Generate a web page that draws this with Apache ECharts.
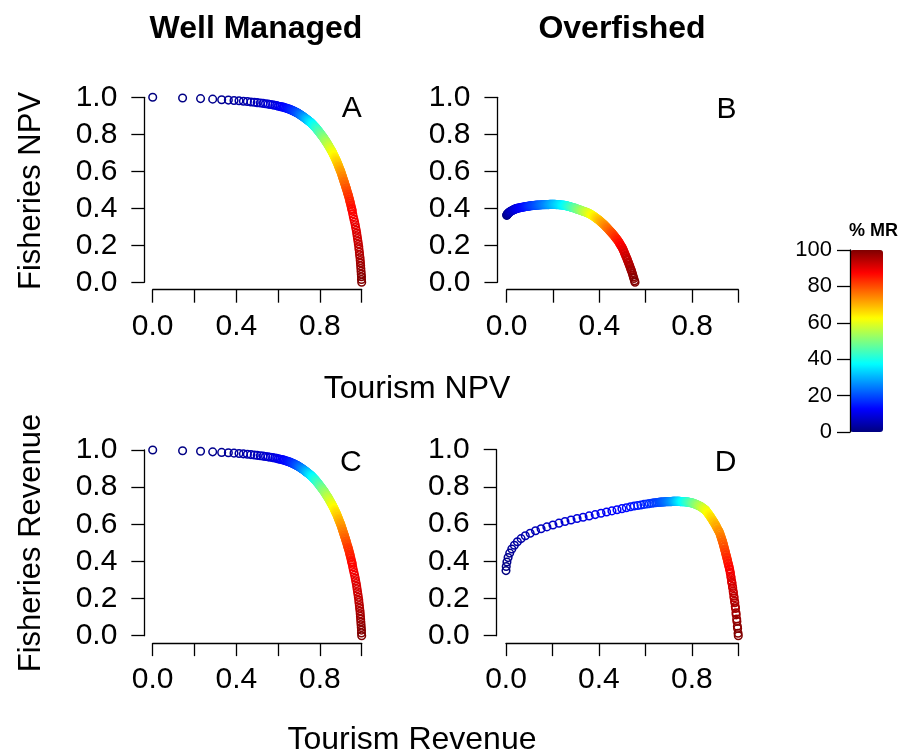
<!DOCTYPE html>
<html>
<head>
<meta charset="utf-8">
<script src="https://cdn.jsdelivr.net/npm/echarts@6/dist/echarts.min.js"></script>
<style>
html,body{margin:0;padding:0;background:#ffffff;}
#chart{width:908px;height:753px;}
</style>
</head>
<body>
<div id="chart"></div>
<script>
// % marine reserve (colour variable), shared by all four panels
const mrPercent = [
0,0.5,1,1.5,2,2.5,3,3.5,4,4.5,
5,5.5,6,6.5,7,7.5,8,8.5,9,9.5,
10,10.5,11,11.5,12,12.5,13,13.5,14,14.5,
15,15.5,16,16.5,17,17.5,18,18.5,19,19.5,
20,20.5,21,21.5,22,22.5,23,23.5,24,24.5,
25,25.5,26,26.5,27,27.5,28,28.5,29,29.5,
30,30.5,31,31.5,32,32.5,33,33.5,34,34.5,
35,35.5,36,36.5,37,37.5,38,38.5,39,39.5,
40,40.5,41,41.5,42,42.5,43,43.5,44,44.5,
45,45.5,46,46.5,47,47.5,48,48.5,49,49.5,
50,50.5,51,51.5,52,52.5,53,53.5,54,54.5,
55,55.5,56,56.5,57,57.5,58,58.5,59,59.5,
60,60.5,61,61.5,62,62.5,63,63.5,64,64.5,
65,65.5,66,66.5,67,67.5,68,68.5,69,69.5,
70,70.5,71,71.5,72,72.5,73,73.5,74,74.5,
75,75.5,76,76.5,77,77.5,78,78.5,79,79.5,
80,80.5,81,81.5,82,82.5,83,83.5,84,84.5,
85,85.5,86,86.5,87,87.5,88,88.5,89,89.5,
90,90.5,91,91.5,92,92.5,93,93.5,94,94.5,
95,95.5,96,96.5,97,97.5,98,98.5,99,99.5,
100];

// Panel A: Well Managed, NPV
const wmNpvTourism = [
0.000,0.143,0.229,0.287,0.330,0.362,0.389,0.413,0.434,0.453,
0.470,0.486,0.500,0.515,0.528,0.540,0.552,0.563,0.574,0.584,
0.593,0.602,0.610,0.617,0.624,0.630,0.636,0.642,0.647,0.652,
0.656,0.660,0.664,0.668,0.672,0.675,0.678,0.681,0.684,0.687,
0.690,0.693,0.696,0.698,0.701,0.703,0.706,0.708,0.711,0.713,
0.715,0.718,0.720,0.722,0.724,0.727,0.729,0.731,0.733,0.735,
0.737,0.739,0.741,0.743,0.745,0.747,0.749,0.751,0.753,0.755,
0.757,0.759,0.761,0.763,0.765,0.767,0.769,0.771,0.773,0.775,
0.777,0.779,0.781,0.783,0.785,0.787,0.789,0.791,0.793,0.795,
0.797,0.799,0.801,0.803,0.805,0.807,0.809,0.811,0.813,0.815,
0.817,0.819,0.821,0.823,0.825,0.827,0.829,0.831,0.833,0.835,
0.837,0.839,0.841,0.843,0.845,0.847,0.849,0.851,0.853,0.855,
0.857,0.859,0.861,0.863,0.865,0.867,0.869,0.871,0.872,0.874,
0.876,0.878,0.880,0.881,0.883,0.885,0.887,0.889,0.890,0.892,
0.894,0.896,0.898,0.899,0.901,0.903,0.905,0.907,0.908,0.910,
0.912,0.914,0.916,0.917,0.919,0.921,0.923,0.925,0.926,0.928,
0.930,0.932,0.934,0.935,0.937,0.939,0.941,0.943,0.944,0.946,
0.948,0.950,0.952,0.953,0.955,0.957,0.960,0.963,0.966,0.969,
0.971,0.974,0.976,0.978,0.980,0.982,0.984,0.986,0.987,0.989,
0.990,0.992,0.993,0.994,0.995,0.996,0.997,0.998,0.999,0.999,
1.000];
const wmNpvFisheries = [
1.000,0.996,0.993,0.990,0.987,0.985,0.983,0.981,0.979,0.977,
0.975,0.973,0.971,0.969,0.967,0.965,0.963,0.961,0.959,0.957,
0.955,0.952,0.950,0.948,0.947,0.945,0.942,0.940,0.938,0.936,
0.935,0.933,0.931,0.929,0.927,0.925,0.924,0.922,0.920,0.918,
0.917,0.915,0.913,0.911,0.909,0.908,0.906,0.904,0.902,0.900,
0.899,0.897,0.895,0.893,0.892,0.889,0.887,0.886,0.884,0.882,
0.881,0.879,0.877,0.875,0.874,0.872,0.870,0.868,0.866,0.865,
0.863,0.861,0.859,0.856,0.854,0.852,0.849,0.847,0.844,0.842,
0.840,0.837,0.835,0.832,0.829,0.826,0.823,0.821,0.818,0.815,
0.812,0.809,0.806,0.803,0.800,0.797,0.794,0.791,0.788,0.785,
0.782,0.779,0.775,0.772,0.768,0.765,0.761,0.758,0.754,0.751,
0.747,0.744,0.740,0.736,0.732,0.728,0.724,0.720,0.716,0.712,
0.708,0.704,0.700,0.695,0.690,0.686,0.681,0.676,0.674,0.669,
0.664,0.660,0.655,0.652,0.646,0.641,0.635,0.629,0.627,0.621,
0.615,0.609,0.604,0.601,0.595,0.588,0.581,0.574,0.571,0.564,
0.557,0.550,0.544,0.540,0.533,0.526,0.519,0.511,0.508,0.500,
0.493,0.485,0.478,0.474,0.466,0.459,0.450,0.441,0.436,0.427,
0.418,0.408,0.399,0.394,0.385,0.370,0.355,0.340,0.326,0.311,
0.296,0.281,0.266,0.252,0.237,0.222,0.207,0.192,0.178,0.163,
0.148,0.133,0.118,0.104,0.089,0.074,0.059,0.044,0.030,0.015,
0.000];

// Panel B: Overfished, NPV
const ofNpvTourism = [
0.000,0.001,0.002,0.003,0.004,0.005,0.007,0.009,0.011,0.013,
0.015,0.018,0.021,0.024,0.027,0.030,0.033,0.036,0.039,0.042,
0.045,0.049,0.053,0.057,0.061,0.065,0.069,0.073,0.077,0.081,
0.085,0.089,0.093,0.097,0.101,0.105,0.109,0.113,0.117,0.121,
0.125,0.129,0.133,0.137,0.141,0.145,0.149,0.153,0.157,0.161,
0.165,0.168,0.172,0.175,0.179,0.182,0.185,0.189,0.192,0.196,
0.199,0.202,0.206,0.209,0.213,0.216,0.219,0.223,0.226,0.230,
0.233,0.236,0.240,0.243,0.247,0.250,0.252,0.255,0.257,0.260,
0.262,0.265,0.267,0.270,0.272,0.274,0.277,0.279,0.282,0.284,
0.287,0.289,0.291,0.294,0.296,0.299,0.301,0.304,0.306,0.308,
0.311,0.313,0.316,0.318,0.321,0.323,0.326,0.328,0.330,0.333,
0.335,0.338,0.340,0.343,0.345,0.347,0.350,0.352,0.355,0.357,
0.360,0.362,0.364,0.367,0.369,0.372,0.374,0.377,0.379,0.382,
0.384,0.386,0.389,0.391,0.394,0.396,0.399,0.401,0.403,0.406,
0.408,0.411,0.413,0.416,0.418,0.420,0.423,0.425,0.428,0.430,
0.432,0.435,0.437,0.440,0.442,0.445,0.447,0.450,0.452,0.454,
0.457,0.459,0.462,0.464,0.467,0.469,0.471,0.474,0.476,0.479,
0.481,0.484,0.486,0.488,0.491,0.493,0.496,0.498,0.501,0.503,
0.505,0.508,0.510,0.513,0.515,0.518,0.520,0.522,0.525,0.527,
0.530,0.532,0.535,0.537,0.539,0.542,0.544,0.547,0.549,0.552,
0.554];
const ofNpvFisheries = [
0.362,0.364,0.366,0.368,0.370,0.371,0.374,0.376,0.378,0.380,
0.382,0.384,0.386,0.388,0.390,0.392,0.394,0.396,0.397,0.398,
0.400,0.401,0.402,0.403,0.404,0.405,0.406,0.407,0.408,0.409,
0.410,0.411,0.411,0.412,0.413,0.414,0.414,0.415,0.415,0.416,
0.416,0.417,0.417,0.417,0.418,0.418,0.419,0.419,0.419,0.419,
0.420,0.420,0.420,0.420,0.420,0.420,0.421,0.421,0.421,0.421,
0.421,0.421,0.421,0.421,0.420,0.420,0.420,0.420,0.419,0.419,
0.418,0.418,0.417,0.417,0.416,0.416,0.415,0.414,0.414,0.413,
0.412,0.411,0.411,0.410,0.409,0.408,0.407,0.406,0.405,0.404,
0.403,0.403,0.402,0.401,0.400,0.398,0.397,0.396,0.395,0.394,
0.393,0.392,0.391,0.390,0.388,0.388,0.386,0.385,0.384,0.383,
0.382,0.381,0.380,0.379,0.378,0.377,0.375,0.374,0.372,0.371,
0.369,0.367,0.366,0.363,0.362,0.359,0.358,0.355,0.354,0.351,
0.349,0.347,0.344,0.343,0.340,0.338,0.335,0.333,0.331,0.327,
0.325,0.322,0.320,0.316,0.314,0.312,0.308,0.306,0.302,0.299,
0.296,0.293,0.290,0.286,0.283,0.279,0.276,0.272,0.269,0.266,
0.262,0.259,0.255,0.252,0.247,0.244,0.240,0.235,0.232,0.228,
0.224,0.218,0.214,0.210,0.203,0.199,0.193,0.189,0.182,0.176,
0.170,0.161,0.155,0.146,0.140,0.131,0.125,0.118,0.108,0.102,
0.092,0.085,0.075,0.068,0.061,0.050,0.041,0.029,0.021,0.008,
0.000];

// Panel C: Well Managed, revenue (reads the same as panel A)
const wmRevTourism = wmNpvTourism;
const wmRevFisheries = wmNpvFisheries;

// Panel D: Overfished, revenue
const ofRevTourism = [
0.000,0.001,0.004,0.009,0.016,0.025,0.036,0.049,0.065,0.083,
0.104,0.127,0.151,0.176,0.202,0.228,0.254,0.280,0.306,0.332,
0.358,0.384,0.409,0.433,0.456,0.478,0.499,0.518,0.536,0.552,
0.567,0.581,0.594,0.606,0.617,0.627,0.636,0.644,0.651,0.658,
0.664,0.668,0.672,0.676,0.680,0.684,0.688,0.691,0.695,0.698,
0.701,0.704,0.707,0.710,0.713,0.716,0.719,0.721,0.724,0.726,
0.728,0.730,0.733,0.735,0.737,0.739,0.741,0.743,0.746,0.748,
0.750,0.752,0.754,0.757,0.759,0.761,0.763,0.765,0.768,0.770,
0.772,0.774,0.776,0.779,0.781,0.783,0.785,0.787,0.790,0.792,
0.794,0.796,0.798,0.801,0.803,0.805,0.807,0.809,0.812,0.814,
0.816,0.818,0.820,0.823,0.825,0.827,0.829,0.831,0.834,0.836,
0.838,0.840,0.842,0.845,0.847,0.849,0.851,0.853,0.856,0.858,
0.860,0.862,0.864,0.867,0.869,0.871,0.873,0.875,0.878,0.880,
0.882,0.884,0.886,0.889,0.891,0.893,0.895,0.897,0.900,0.902,
0.904,0.906,0.908,0.911,0.913,0.915,0.917,0.919,0.922,0.924,
0.926,0.927,0.929,0.930,0.932,0.933,0.935,0.936,0.938,0.939,
0.941,0.942,0.944,0.945,0.947,0.948,0.950,0.951,0.953,0.954,
0.956,0.957,0.959,0.960,0.962,0.963,0.965,0.966,0.968,0.969,
0.971,0.972,0.973,0.975,0.976,0.978,0.979,0.981,0.982,0.984,
0.985,0.987,0.988,0.990,0.991,0.993,0.994,0.996,0.997,0.999,
1.000];
const ofRevFisheries = [
0.350,0.372,0.396,0.420,0.444,0.466,0.486,0.505,0.522,0.537,
0.551,0.564,0.575,0.585,0.595,0.605,0.614,0.622,0.630,0.637,
0.644,0.651,0.658,0.665,0.671,0.677,0.683,0.688,0.693,0.697,
0.700,0.703,0.706,0.708,0.710,0.712,0.714,0.715,0.716,0.717,
0.718,0.718,0.719,0.719,0.719,0.720,0.720,0.720,0.721,0.721,
0.721,0.721,0.721,0.721,0.721,0.722,0.722,0.722,0.722,0.722,
0.722,0.722,0.722,0.722,0.722,0.722,0.722,0.722,0.722,0.722,
0.721,0.721,0.721,0.721,0.721,0.721,0.721,0.720,0.720,0.720,
0.720,0.720,0.719,0.719,0.719,0.718,0.718,0.717,0.716,0.716,
0.715,0.715,0.714,0.714,0.713,0.712,0.711,0.710,0.709,0.708,
0.707,0.706,0.705,0.703,0.702,0.701,0.700,0.698,0.697,0.695,
0.694,0.693,0.691,0.688,0.686,0.684,0.683,0.681,0.678,0.676,
0.674,0.671,0.667,0.662,0.659,0.655,0.652,0.649,0.643,0.640,
0.636,0.632,0.628,0.622,0.618,0.614,0.610,0.606,0.600,0.595,
0.591,0.586,0.581,0.574,0.569,0.565,0.560,0.555,0.545,0.537,
0.530,0.526,0.518,0.514,0.506,0.502,0.494,0.489,0.480,0.475,
0.465,0.461,0.451,0.446,0.436,0.432,0.422,0.417,0.407,0.402,
0.391,0.386,0.376,0.371,0.360,0.355,0.342,0.334,0.319,0.311,
0.296,0.288,0.281,0.265,0.256,0.239,0.230,0.212,0.203,0.186,
0.177,0.157,0.146,0.123,0.112,0.090,0.077,0.051,0.039,0.013,
0.000];

// axis ranges / ticks
const unitAxisMin = 0, unitAxisMax = 1, unitAxisStep = 0.2;
const mrAxisMin = 0, mrAxisMax = 100, mrAxisStep = 20;

// texts
const columnTitles = ['Well Managed', 'Overfished'];
const panelLetters = ['A', 'B', 'C', 'D'];
const yTitles = ['Fisheries NPV', 'Fisheries Revenue'];
const xTitles = ['Tourism NPV', 'Tourism Revenue'];
const colorbarTitle = '% MR';

const jetColors = ['#00007F','#0000FF','#007FFF','#00FFFF','#7FFF7F','#FFFF00','#FF7F00','#FF0000','#7F0000'];
const FONT = '"Liberation Sans", Arial, Helvetica, sans-serif';
const INK = '#000000';

const panels = [
  { box: { left: 152.7, top: 97.3, width: 209.0, height: 185.0 }, t: wmNpvTourism, f: wmNpvFisheries },
  { box: { left: 506.7, top: 97.3, width: 231.6, height: 185.0 }, t: ofNpvTourism, f: ofNpvFisheries },
  { box: { left: 152.7, top: 450.0, width: 209.0, height: 185.7 }, t: wmRevTourism, f: wmRevFisheries },
  { box: { left: 506.0, top: 449.7, width: 232.3, height: 186.0 }, t: ofRevTourism, f: ofRevFisheries }
];

function rows(t, f) { return t.map((x, i) => [x, f[i], mrPercent[i]]); }

function ringItem(params, api) {
  const p = api.coord([api.value(0), api.value(1)]);
  return {
    type: 'circle',
    shape: { cx: p[0], cy: p[1], r: 3.8 },
    style: { fill: 'none', stroke: api.visual('color'), lineWidth: 1.5 }
  };
}

const lineStyle = { color: INK, width: 1.3 };
const grids = [], xAxes = [], yAxes = [], series = [];

panels.forEach((p, i) => {
  grids.push(Object.assign({ outerBoundsMode: 'none', containLabel: false }, p.box));
  xAxes.push({
    gridIndex: i, type: 'value', min: unitAxisMin, max: unitAxisMax, interval: unitAxisStep,
    position: 'bottom', offset: 0.04 * p.box.height,
    axisLine: { show: true, onZero: false, lineStyle: lineStyle },
    axisTick: { show: true, inside: false, length: 13, lineStyle: lineStyle },
    axisLabel: { margin: 22, fontSize: 30, color: INK, fontFamily: FONT,
      formatter: v => (Math.round(v * 10) % 4 === 0 ? v.toFixed(1) : '') },
    splitLine: { show: false }
  });
  yAxes.push({
    gridIndex: i, type: 'value', min: unitAxisMin, max: unitAxisMax, interval: unitAxisStep,
    position: 'left', offset: 0.04 * p.box.width,
    axisLine: { show: true, onZero: false, lineStyle: lineStyle },
    axisTick: { show: true, inside: false, length: 13, lineStyle: lineStyle },
    axisLabel: { margin: 27, fontSize: 30, color: INK, fontFamily: FONT, formatter: v => v.toFixed(1) },
    splitLine: { show: false }
  });
  series.push({
    type: 'custom', xAxisIndex: i, yAxisIndex: i, coordinateSystem: 'cartesian2d',
    data: rows(p.t, p.f), encode: { x: 0, y: 1 }, renderItem: ringItem,
    clip: false, silent: true, animation: false
  });
});

// colour bar axis
const barBox = { left: 850, top: 250, width: 33, height: 182 };
grids.push(Object.assign({ outerBoundsMode: 'none', containLabel: false }, barBox));
xAxes.push({ gridIndex: 4, type: 'value', show: false, min: 0, max: 1 });
yAxes.push({
  gridIndex: 4, type: 'value', min: mrAxisMin, max: mrAxisMax, interval: mrAxisStep, position: 'left', z: 10,
  axisLine: { show: true, onZero: false, lineStyle: lineStyle },
  axisTick: { show: true, inside: false, length: 13, lineStyle: lineStyle },
  axisLabel: { margin: 18, fontSize: 22, color: INK, fontFamily: FONT },
  splitLine: { show: false }
});

const graphics = [];
function addText(text, x, y, size, opts) {
  graphics.push(Object.assign({
    type: 'text', x: x, y: y, silent: true,
    style: Object.assign({ text: text, fill: INK, fontSize: size, fontFamily: FONT,
      textAlign: 'center', textVerticalAlign: 'middle' }, (opts && opts.style) || {})
  }, (opts && opts.el) || {}));
}
addText(columnTitles[0], 256, 29.5, 32, { style: { fontWeight: 'bold' } });
addText(columnTitles[1], 622, 29.5, 32, { style: { fontWeight: 'bold' } });
addText(yTitles[0], 31, 191, 31, { el: { rotation: Math.PI / 2 } });
addText(yTitles[1], 31, 543, 31, { el: { rotation: Math.PI / 2 } });
addText(xTitles[0], 417, 389.5, 32);
addText(xTitles[1], 412, 740, 32);
addText(panelLetters[0], 361.7, 109, 30, { style: { textAlign: 'right' } });
addText(panelLetters[1], 736.5, 109.5, 30, { style: { textAlign: 'right' } });
addText(panelLetters[2], 361.7, 463, 30, { style: { textAlign: 'right' } });
addText(panelLetters[3], 736.5, 462.5, 30, { style: { textAlign: 'right' } });
addText(colorbarTitle, 849, 231, 18, { style: { fontWeight: 'bold', textAlign: 'left' } });

const chart = echarts.init(document.getElementById('chart'), null, { renderer: 'canvas' });
chart.setOption({
  backgroundColor: '#ffffff',
  animation: false,
  textStyle: { fontFamily: FONT },
  grid: grids,
  xAxis: xAxes,
  yAxis: yAxes,
  visualMap: {
    type: 'continuous', min: mrAxisMin, max: mrAxisMax, dimension: 2, seriesIndex: [0, 1, 2, 3],
    inRange: { color: jetColors },
    left: barBox.left, top: barBox.top, itemWidth: barBox.width, itemHeight: barBox.height,
    orient: 'vertical', calculable: false, padding: 0, hoverLink: false, z: 1
  },
  graphic: graphics,
  series: series
});
</script>
</body>
</html>
